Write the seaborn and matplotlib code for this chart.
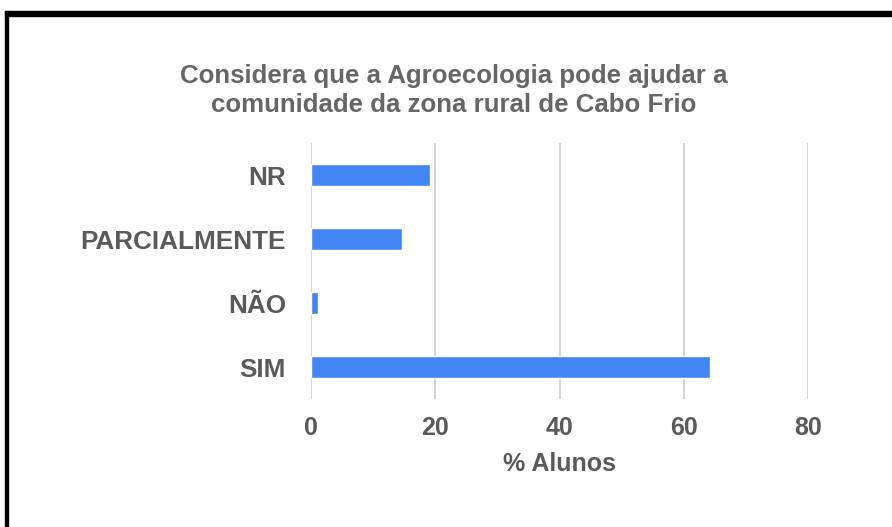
import matplotlib
matplotlib.use("Agg")
import matplotlib.pyplot as plt
from matplotlib.patches import Rectangle
import seaborn as sns
import pandas as pd

categories = ["NR", "PARCIALMENTE", "NÃO", "SIM"]
values = [19.2, 14.7, 1.1, 64.2]
x_ticks = [0, 20, 40, 60, 80]

title = "Considera que a Agroecologia pode ajudar a\ncomunidade da zona rural de Cabo Frio"
xlabel = "% Alunos"

sns.set_theme(style="white")
plt.rcParams["font.family"] = ["Liberation Sans", "DejaVu Sans"]

W, H = 892, 527
fig = plt.figure(figsize=(W / 100, H / 100), dpi=100)
ax = fig.add_axes([311 / W, 1 - 399 / H, (808 - 311) / W, (399 - 143.3) / H])

df = pd.DataFrame({"cat": categories, "val": values})
sns.barplot(data=df, x="val", y="cat", order=categories, color="#4285F4",
            saturation=1, width=0.35, ax=ax, zorder=3)

text_color = "#5a5a5a"
ax.set_xlim(0, 80)
ax.set_xticks(x_ticks)
ax.set_xticklabels([str(t) for t in x_ticks])
ax.grid(axis="x", color="#d0d0d0", linewidth=1.3, zorder=0)
ax.grid(axis="y", visible=False)
for s in ax.spines.values():
    s.set_visible(False)
ax.tick_params(axis="both", length=0, labelcolor=text_color)
ax.tick_params(axis="x", pad=12, labelsize=18)
ax.tick_params(axis="y", pad=18, labelsize=18.8)
for lbl in ax.get_xticklabels() + ax.get_yticklabels():
    lbl.set_fontweight("bold")
ax.set_ylabel("")
ax.set_xlabel(xlabel, fontsize=18, fontweight="bold", color=text_color, labelpad=9)

fig.text(454 / W, 1 - 90.5 / H, title, ha="center", va="center", fontsize=18.6,
         fontweight="bold", color="#666666", linespacing=1.22)

# screenshot border (top and left edges)
fig.patches.append(Rectangle((5 / W, 1 - 16 / H), (W - 5) / W, 5 / H,
                             transform=fig.transFigure, color="black", zorder=10))
fig.patches.append(Rectangle((5 / W, 0), 3 / W, 1 - 11 / H,
                             transform=fig.transFigure, color="black", zorder=10))

fig.savefig("out.png", dpi=100, facecolor="white")
